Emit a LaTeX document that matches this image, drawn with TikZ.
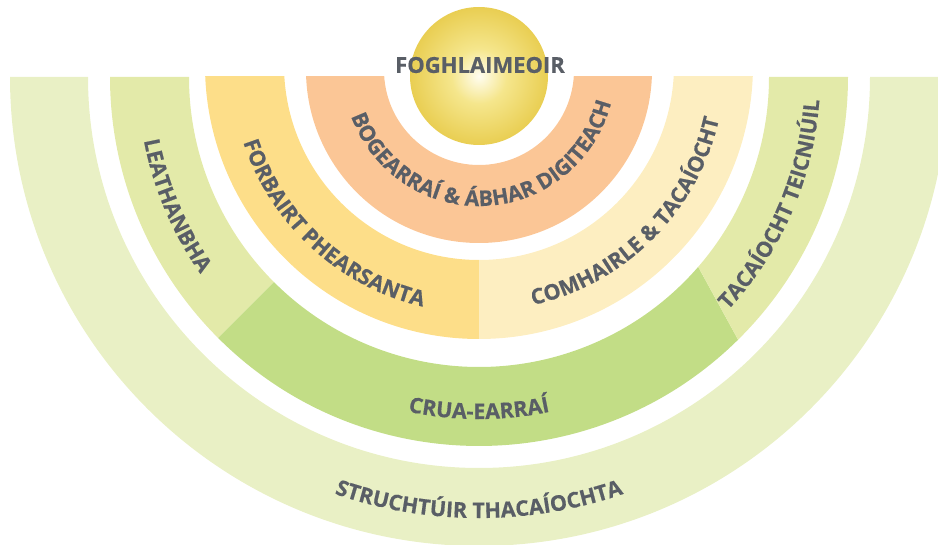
\documentclass[tikz,border=0pt]{standalone}
\usepackage{fontspec}
\setmainfont{Open Sans}[BoldFeatures={FakeBold=0.6}]
\usetikzlibrary{decorations.text,calc}
\definecolor{outerband}{RGB}{233,240,197}
\definecolor{paleband}{RGB}{227,234,169}
\definecolor{cruaband}{RGB}{194,221,134}
\definecolor{forbairt}{RGB}{253,222,137}
\definecolor{comhairle}{RGB}{253,238,193}
\definecolor{orangeband}{RGB}{251,198,150}
\definecolor{txtgray}{RGB}{89,94,102}
\definecolor{sphA}{RGB}{255,253,240}
\definecolor{sphB}{RGB}{245,230,140}
\definecolor{sphC}{RGB}{233,206,82}
\definecolor{sphD}{RGB}{226,193,50}
\definecolor{sphE}{RGB}{221,185,38}
\pgfdeclareradialshading{sphere}{\pgfpoint{0bp}{0bp}}{color(0bp)=(sphA); color(10bp)=(sphB); color(25bp)=(sphC); color(40bp)=(sphD); color(50bp)=(sphE)}
\newcommand\lblfont{\fontsize{21.5}{21.5}\selectfont\bfseries}
\newcommand\toplblfont{\fontsize{22}{22}\selectfont\bfseries}
\tikzset{
  arclabel/.style={decorate, decoration={text along path, text align=center,
      text color=txtgray, text={|\lblfont|#1}}}
}
\begin{document}
\begin{tikzpicture}[x=1pt,y=1pt]
\useasboundingbox (0,0) rectangle (938,-545);
\clip (0,0) rectangle (938,-545);
\coordinate (C) at (479,-77);
\coordinate (CY) at (479,-65);
\coordinate (CO) at (479,-70);
% outer band
\fill[outerband] ($(C)+(180:469)$) arc[start angle=180,end angle=360,radius=469]
  -- ($(C)+(0:391)$) arc[start angle=360,end angle=180,radius=391] -- cycle;
% green ring
\fill[paleband] ($(C)+(180:369)$) arc[start angle=180,end angle=225,radius=369]
  -- ($(C)+(225:290)$) arc[start angle=225,end angle=180,radius=290] -- cycle;
\fill[cruaband] ($(C)+(225:369)$) arc[start angle=225,end angle=314.6,radius=369]
  -- ($(C)+(319.1:290)$) arc[start angle=319.1,end angle=225,radius=290] -- cycle;
\fill[paleband] ($(C)+(314.6:369)$) arc[start angle=314.6,end angle=360,radius=369]
  -- ($(C)+(0:290)$) arc[start angle=360,end angle=319.1,radius=290] -- cycle;
% yellow ring
\begin{scope}
\clip (0,-77) rectangle (479,-545);
\fill[forbairt,even odd rule] (CY) circle[radius=274] (CY) circle[radius=195];
\end{scope}
\begin{scope}
\clip (479,-77) rectangle (938,-545);
\fill[comhairle,even odd rule] (CY) circle[radius=274] (CY) circle[radius=195];
\end{scope}
% orange ring
\begin{scope}
\clip (0,-77) rectangle (938,-545);
\fill[orangeband,even odd rule] (CO) circle[radius=173] (CO) circle[radius=95];
\end{scope}
% sphere
\shade[shading=sphere] (479,-76) circle[radius=69];
\node[font=\toplblfont, text=txtgray, inner sep=0] (learner) at (480,-65) {FOGHLAIMEOIR};
% curved labels
\path[arclabel={BOGEARRA{Í} {\&} {Á}BHAR DIGITEACH}] ($(CO)+(183:136)$) arc[start angle=183,end angle=363,radius=136];
\path[arclabel={FORBAIRT PHEARSANTA}] ($(CY)+(137.5:248)$) arc[start angle=137.5,end angle=317.5,radius=248];
\path[arclabel={COMHAIRLE {\&} TACA{Í}OCHT}] ($(CY)+(225:246)$) arc[start angle=225,end angle=405,radius=246];
\path[arclabel={LEATHANBHA}] ($(C)+(113:341)$) arc[start angle=113,end angle=293,radius=341];
\path[arclabel={TACA{Í}OCHT TEICNI{Ú}IL}] ($(C)+(246.5:341)$) arc[start angle=246.5,end angle=426.5,radius=341];
\path[arclabel={CRUA-EARRA{Í}}] ($(C)+(180:342)$) arc[start angle=180,end angle=360,radius=342];
\path[arclabel={STRUCHT{Ú}IR THACA{Í}OCHTA}] ($(C)+(180:441)$) arc[start angle=180,end angle=360,radius=441];
\end{tikzpicture}
\end{document}
